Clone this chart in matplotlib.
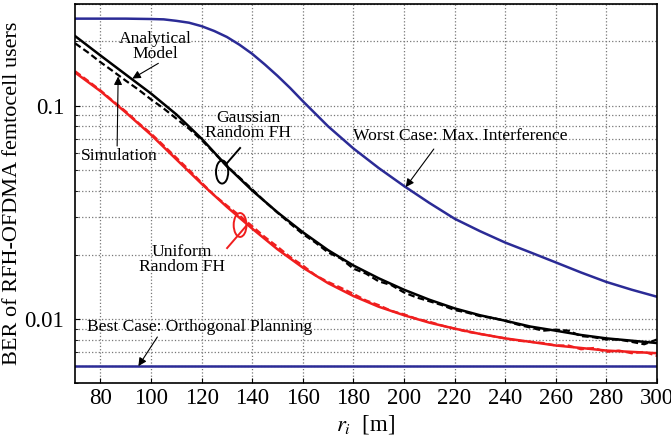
import matplotlib
matplotlib.use('Agg')
import matplotlib.pyplot as plt
from matplotlib.patches import Ellipse

plt.rcParams['font.family'] = ['Liberation Serif', 'DejaVu Serif']
plt.rcParams['mathtext.fontset'] = 'stix'
plt.rcParams['ytick.major.pad'] = 8
plt.rcParams['xtick.direction'] = 'in'
plt.rcParams['ytick.direction'] = 'in'

# analytical curves, 10 m spacing
r_ana = [70, 80, 90, 100, 110, 120, 130, 140, 150, 160, 170, 180, 190, 200,
         210, 220, 230, 240, 250, 260, 270, 280, 290, 300]
ber_gauss = [0.212, 0.172, 0.140, 0.114, 0.091, 0.070, 0.052, 0.040, 0.0316, 0.0255,
             0.0210, 0.0178, 0.0155, 0.0137, 0.0123, 0.0112, 0.0104, 0.0098, 0.0092,
             0.0088, 0.0084, 0.0081, 0.0079, 0.0077]
ber_unif = [0.143, 0.117, 0.093, 0.073, 0.056, 0.043, 0.0335, 0.0265, 0.0212, 0.0174,
            0.0147, 0.0128, 0.0114, 0.0104, 0.0096, 0.0090, 0.0085, 0.0081, 0.0078,
            0.0075, 0.0073, 0.0071, 0.0070, 0.0069]

# simulation curves, 5 m spacing
r_sim = list(range(70, 301, 5))
sim_gauss = [0.196, 0.178, 0.160, 0.145, 0.131, 0.119, 0.107, 0.097, 0.087, 0.078,
             0.069, 0.060, 0.052, 0.046, 0.0405, 0.0355, 0.0315, 0.0280, 0.0250, 0.0228,
             0.0205, 0.0192, 0.0172, 0.0163, 0.0150, 0.0144, 0.0133, 0.0126, 0.0121,
             0.0116, 0.0110, 0.0107, 0.0103, 0.0101, 0.0098, 0.0094, 0.0091, 0.0088,
             0.0089, 0.0088, 0.0083, 0.0082, 0.0080, 0.0080, 0.0078, 0.0076, 0.0080]
sim_unif = [0.145, 0.131, 0.118, 0.105, 0.094, 0.083, 0.074, 0.065, 0.057, 0.050,
            0.0435, 0.038, 0.0340, 0.0305, 0.0272, 0.0242, 0.0218, 0.0195, 0.0178,
            0.0160, 0.0149, 0.0140, 0.0131, 0.0122, 0.0116, 0.0109, 0.0105, 0.0100,
            0.0097, 0.0093, 0.0090, 0.0087, 0.0085, 0.0083, 0.0081, 0.0079, 0.0078,
            0.0077, 0.0075, 0.0075, 0.0072, 0.0073, 0.0070, 0.0071, 0.0069, 0.0070, 0.0067]

# worst case (max interference) and best case (orthogonal planning)
r_worst = [70, 80, 90, 100, 105, 110, 115, 120, 125, 130, 135, 140, 145, 150, 155, 160,
           170, 180, 190, 200, 210, 220, 230, 240, 250, 260, 270, 280, 290, 300]
ber_worst = [0.256, 0.256, 0.256, 0.255, 0.254, 0.250, 0.245, 0.236, 0.224, 0.210,
             0.193, 0.175, 0.156, 0.138, 0.121, 0.105, 0.080, 0.063, 0.051, 0.042,
             0.035, 0.0295, 0.0258, 0.0228, 0.0205, 0.0184, 0.0165, 0.0149, 0.0137, 0.0127]
r_best = [70, 300]
ber_best = [0.0060, 0.0060]

navy = '#2b2b96'
red = '#f01e1e'

fig = plt.figure(figsize=(6.71, 4.40), dpi=100)
ax = fig.add_axes([0.112, 0.1295, 0.867, 0.8615])

ax.plot(r_worst, ber_worst, color=navy, lw=1.8)
ax.plot(r_best, ber_best, color=navy, lw=1.8)
ax.plot(r_ana, ber_gauss, color='black', lw=1.8)
ax.plot(r_sim, sim_gauss, color='black', lw=1.6, ls=(0, (3, 1.5)))
ax.plot(r_ana, ber_unif, color=red, lw=1.8)
ax.plot(r_sim, sim_unif, color=red, lw=1.6, ls=(0, (3, 1.5)))

ax.set_yscale('log')
ax.set_xlim(70, 300)
ax.set_ylim(0.005, 0.3)
ax.set_xticks(range(80, 301, 20))
ax.set_yticks([0.01, 0.1])
ax.set_yticklabels(['0.01', '0.1'])
ax.grid(True, which='both', ls=':', color='#777777', lw=0.9)
ax.set_axisbelow(True)
ax.tick_params(labelsize=16.5)
for s in ax.spines.values():
    s.set_linewidth(1.2)

ax.set_xlabel('$r_i$  [m]', fontsize=16.5, labelpad=3)
ax.set_ylabel('BER of RFH-OFDMA femtocell users', fontsize=16, labelpad=2)

fs = 12.6
arr = dict(arrowstyle='-|>', color='black', lw=0.8, mutation_scale=12,
           shrinkA=0, shrinkB=0)
ax.text(101.7, 0.19, 'Analytical\nModel', fontsize=fs, ha='center', va='center',
        linespacing=0.95)
ax.annotate('', xy=(92.6, 0.134), xytext=(102.9, 0.158), arrowprops=arr)
ax.text(87.6, 0.058, 'Simulation', fontsize=fs, ha='center', va='center')
ax.annotate('', xy=(87.0, 0.137), xytext=(86.6, 0.0647), arrowprops=arr)
ax.text(179.7, 0.072, 'Worst Case: Max. Interference', fontsize=fs, ha='left', va='center')
ax.annotate('', xy=(200.7, 0.0415), xytext=(211.8, 0.0626), arrowprops=arr)
ax.text(74.75, 0.0092, 'Best Case: Orthogonal Planning', fontsize=fs, ha='left', va='center')
ax.annotate('', xy=(95, 0.0060), xytext=(102.5, 0.00822), arrowprops=arr)
ax.text(138.5, 0.0805, 'Gaussian\nRandom FH', fontsize=fs, ha='center', va='center',
        linespacing=0.95)
ax.text(112.2, 0.019, 'Uniform\nRandom FH', fontsize=fs, ha='center', va='center',
        linespacing=0.95)

ax.add_patch(Ellipse((0.2526, 0.5567), 0.021, 0.061, transform=ax.transAxes,
                     fill=False, ec='black', lw=1.4))
ax.plot([0.2835, 0.2612], [0.620, 0.5805], transform=ax.transAxes, color='black', lw=1.4)
ax.add_patch(Ellipse((0.2835, 0.4169), 0.022, 0.063, transform=ax.transAxes,
                     fill=False, ec=red, lw=1.4))
ax.plot([0.2612, 0.2938], [0.356, 0.414], transform=ax.transAxes, color=red, lw=1.4)

fig.savefig('out.png', dpi=100)
